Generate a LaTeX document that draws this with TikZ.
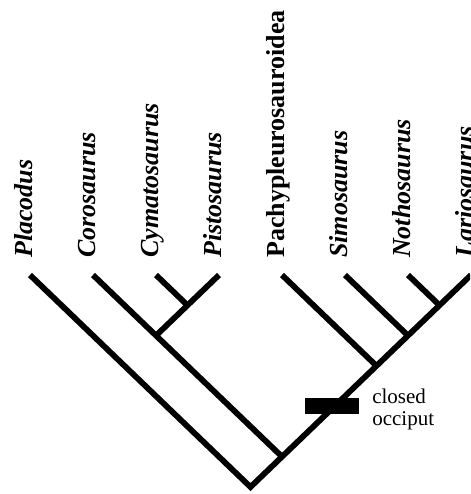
\documentclass[tikz,border=0pt]{standalone}
\usepackage{fontspec}
\setmainfont{Liberation Serif}
\usetikzlibrary{positioning, calc}
\tikzset{
  taxon/.style = {
    rotate = 90,
    anchor = base west,
    inner sep = 0pt,
    font = \fontsize{26}{30}\selectfont\bfseries,
  }
}
\tikzset{
  branch/.style = {
    draw = black, line width = 5.8pt,
  },
  occbar/.style = {
    fill = black, inner sep = 0pt,
    minimum width = 54pt, minimum height = 16pt,
  },
  note/.style = {
    align = left, inner sep = 0pt,
    font = \fontsize{21}{22.5}\selectfont,
  }
}

\begin{document}
\begin{tikzpicture}[x=1pt, y=-1pt]
        \useasboundingbox (0,0) rectangle (470,494);
        \clip (0,0) rectangle (470,494);
        \foreach \n/\x/\lab in {Pl/30/\textit{Placodus}, Co/93/\textit{Corosaurus},
            Cy/156/\textit{Cymatosaurus}, Pi/219/\textit{Pistosaurus},
            Pa/282/Pachypleurosauroidea, Si/345/\textit{Simosaurus},
            No/408/\textit{Nothosaurus}, La/471/\textit{Lariosaurus}}{
          \coordinate (\n) at (\x,275);
          \node[taxon] (l\n) at (\x+2,258) {\lab};
        }
        \coordinate (1) at (187.5,305.3);
        \coordinate (2) at (156,335.6);
        \coordinate (3) at (439.5,305.3);
        \coordinate (4) at (408,335.6);
        \coordinate (5) at (376.5,365.9);
        \coordinate (6) at (282,456.7);
        \coordinate (root) at (250.5,487);
        \draw[branch](Pl) -- (root) -- (La);
        \draw[branch](Co) -- (6);
        \draw[branch](Cy) -- (1);
        \draw[branch](Pi) -- (2);
        \draw[branch](Pa) -- (5);
        \draw[branch](Si) -- (4);
        \draw[branch](No) -- (3);
        \node[occbar, xshift = -3pt](bar) at ($(6)!0.56!(5)$){};
        \node[note, right = 13pt of bar, yshift = -3.5pt](occ){closed\\occiput};
    \end{tikzpicture}
\end{document}
